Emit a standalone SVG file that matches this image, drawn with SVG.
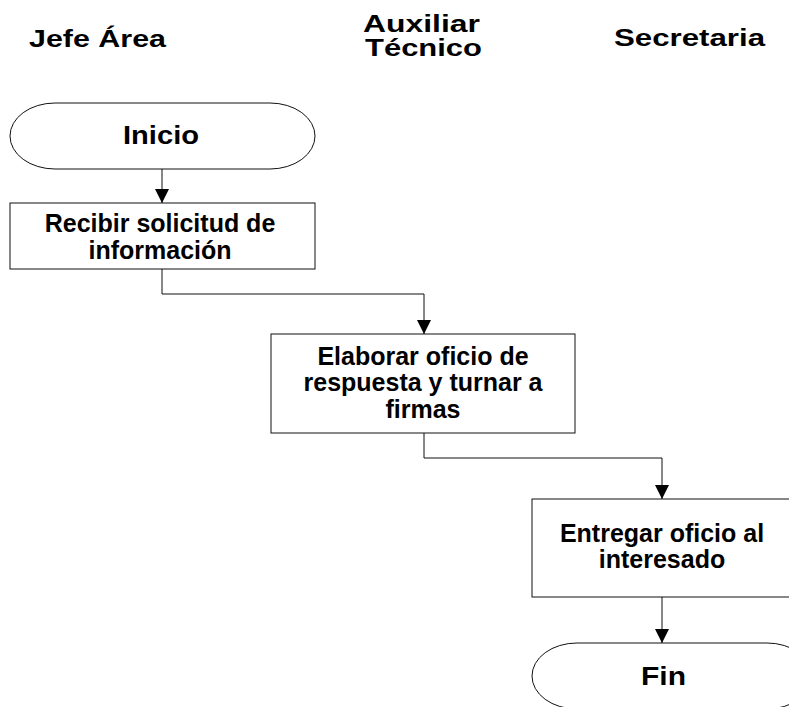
<svg xmlns="http://www.w3.org/2000/svg" width="789" height="707" viewBox="0 0 789 707">
<style>
text{font-family:"Liberation Sans",Arial,sans-serif;font-weight:bold;fill:#000}
.h{font-size:23px}
.t{font-size:25px}
.b{font-size:25px;text-anchor:middle}
.s{fill:#fff;stroke:#111;stroke-width:1}
.c{fill:none;stroke:#111;stroke-width:1}
</style>
<defs>
<marker id="a" markerWidth="14" markerHeight="14" refX="14" refY="7" orient="auto" markerUnits="userSpaceOnUse">
<path d="M0,0 L14,7 L0,14 Z" fill="#000"/>
</marker>
</defs>
<rect width="789" height="707" fill="#fff"/>
<g id="headers">
<text class="h" x="29" y="47" textLength="137" lengthAdjust="spacingAndGlyphs">Jefe Área</text>
<text class="h" x="363" y="32" textLength="117" lengthAdjust="spacingAndGlyphs">Auxiliar</text>
<text class="h" x="365" y="56" textLength="117" lengthAdjust="spacingAndGlyphs">Técnico</text>
<text class="h" x="614" y="46" textLength="151" lengthAdjust="spacingAndGlyphs">Secretaria</text>
</g>
<g id="connectors">
<path class="c" d="M162,169 V203" marker-end="url(#a)"/>
<path class="c" d="M162,269 V294 H424 V334" marker-end="url(#a)"/>
<path class="c" d="M424,433 V458 H662 V499" marker-end="url(#a)"/>
<path class="c" d="M662,597 V643" marker-end="url(#a)"/>
</g>
<g id="inicio">
<rect class="s" x="10" y="103" width="305" height="66" rx="45" ry="33"/>
<text class="t" x="123" y="144" textLength="76" lengthAdjust="spacingAndGlyphs">Inicio</text>
</g>
<g id="recibir">
<rect class="s" x="10" y="203" width="305" height="66"/>
<text class="b" x="160" y="232">Recibir solicitud de</text>
<text class="b" x="160" y="259">información</text>
</g>
<g id="elaborar">
<rect class="s" x="271" y="334" width="304" height="99"/>
<text class="b" x="423" y="365">Elaborar oficio de</text>
<text class="b" x="423" y="391">respuesta y turnar a</text>
<text class="b" x="423" y="418">firmas</text>
</g>
<g id="entregar">
<rect class="s" x="532" y="499" width="280" height="98"/>
<text class="b" x="662" y="542">Entregar oficio al</text>
<text class="b" x="662" y="568">interesado</text>
</g>
<g id="fin">
<rect class="s" x="532" y="643" width="280" height="66" rx="45" ry="33"/>
<text class="t" x="641" y="685" textLength="45" lengthAdjust="spacingAndGlyphs">Fin</text>
</g>
</svg>
